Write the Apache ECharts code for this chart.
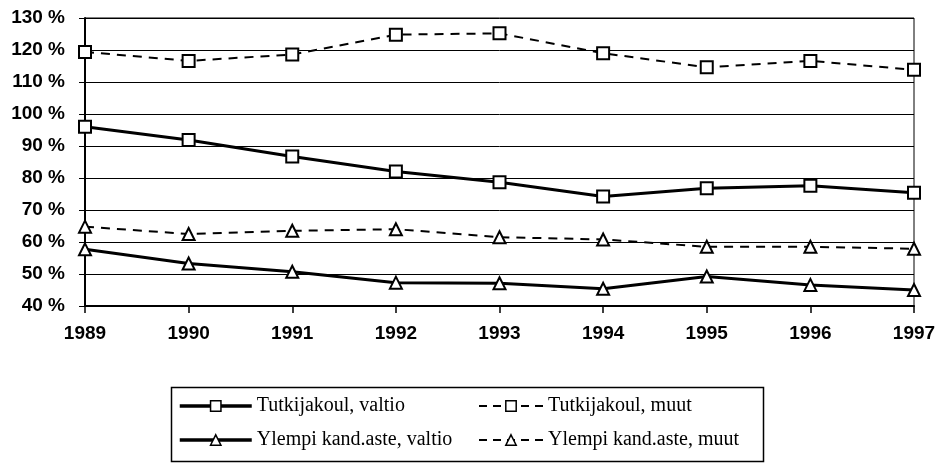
<!DOCTYPE html>
<html>
<head>
<meta charset="utf-8">
<script src="https://cdn.jsdelivr.net/npm/echarts@6/dist/echarts.min.js"></script>
<style>html,body{margin:0;padding:0;background:#fff}#c{width:947px;height:463px}</style>
</head>
<body>
<div id="c"></div>
<script>
const years = ['1989','1990','1991','1992','1993','1994','1995','1996','1997'];
const tutkijaValtio = [96.0, 91.9, 86.7, 82.0, 78.7, 74.2, 76.8, 77.6, 75.4];
const tutkijaMuut = [119.4, 116.6, 118.6, 124.8, 125.2, 119.0, 114.6, 116.6, 113.8];
const ylempiValtio = [57.7, 53.3, 50.7, 47.3, 47.1, 45.4, 49.2, 46.6, 45.0];
const ylempiMuut = [64.8, 62.5, 63.5, 64.0, 61.5, 60.8, 58.5, 58.5, 57.9];
const names = ['Tutkijakoul, valtio','Tutkijakoul, muut','Ylempi kand.aste, valtio','Ylempi kand.aste, muut'];

const chart = echarts.init(document.getElementById('c'));
function mk(name, data, symbol, dashed){
  return {
    name: name, type: 'line', data: data,
    symbol: symbol, symbolSize: 12,
    showAllSymbol: true,
    lineStyle: {color:'#000', width: dashed ? 2 : 3, type: dashed ? [9,7] : 'solid'},
    itemStyle: {color:'#fff', borderColor:'#000', borderWidth: 2},
    emphasis: {disabled: true},
    animation: false, z: 3
  };
}
const legendText = {fontFamily:'Liberation Serif', fontSize:20, color:'#000'};
chart.setOption({
  animation: false,
  grid: {left:85, right:33, top:18, bottom:157, show:true, borderColor:'#000', borderWidth:1},
  xAxis: {
    type:'category', data: years, boundaryGap:false,
    axisLine:{lineStyle:{color:'#000', width:2}},
    axisTick:{show:true, length:7, lineStyle:{color:'#000', width:1.5}, alignWithLabel:true},
    axisLabel:{fontFamily:'Liberation Sans', fontWeight:'bold', fontSize:19, color:'#000', margin:18}
  },
  yAxis: {
    type:'value', min:40, max:130, interval:10,
    axisLine:{show:true, lineStyle:{color:'#000', width:2}},
    axisTick:{show:true, length:6, lineStyle:{color:'#000'}},
    splitLine:{lineStyle:{color:'#000', width:1}},
    axisLabel:{formatter:'{value} %', fontFamily:'Liberation Sans', fontWeight:'bold', fontSize:19, color:'#000', margin:20}
  },
  legend: [
    {orient:'vertical', left:178, top:396, itemWidth:72, itemHeight:13, itemGap:14, padding:0,
     lineStyle:{width:3.5, color:'#000'}, itemStyle:{borderWidth:1.5},
     data:[names[0], names[2]], textStyle:legendText, selectedMode:false},
    {orient:'vertical', left:478, top:396, itemWidth:64, itemHeight:13, itemGap:14, padding:0,
     lineStyle:{width:2, color:'#000', type:[8,6]}, itemStyle:{borderWidth:1.5},
     data:[names[1], names[3]], textStyle:legendText, selectedMode:false}
  ],
  graphic: [{type:'rect', shape:{x:171.5, y:387.5, width:592, height:74}, style:{fill:'none', stroke:'#000', lineWidth:1.5}}],
  series: [
    mk(names[0], tutkijaValtio, 'rect', false),
    mk(names[1], tutkijaMuut, 'rect', true),
    mk(names[2], ylempiValtio, 'triangle', false),
    mk(names[3], ylempiMuut, 'triangle', true)
  ]
});
</script>
</body>
</html>
